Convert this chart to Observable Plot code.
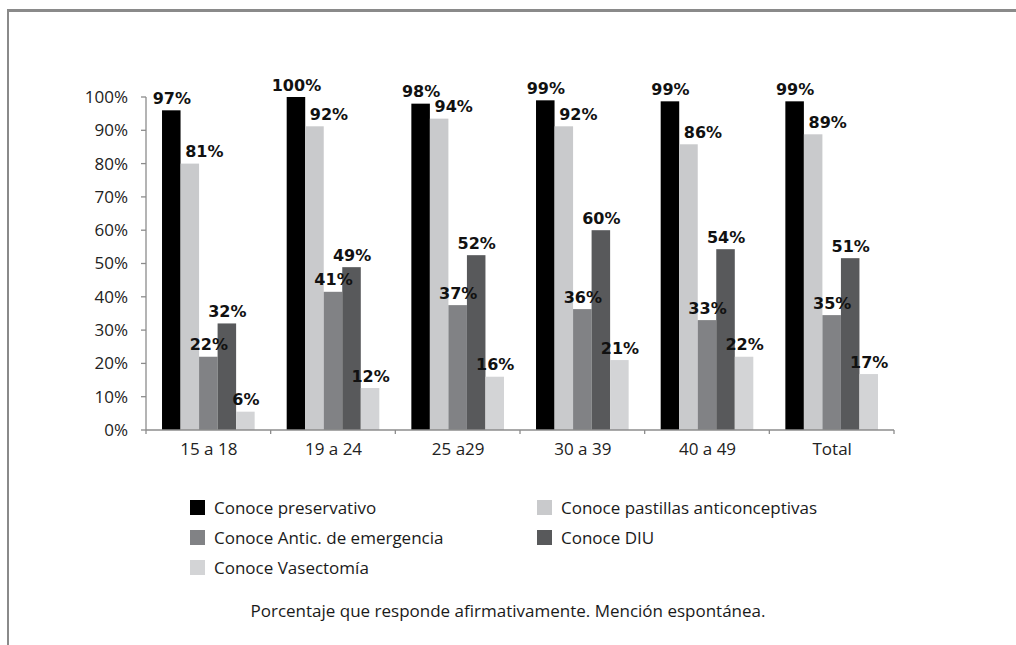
<!DOCTYPE html>
<html><head><meta charset="utf-8">
<script src="https://cdn.jsdelivr.net/npm/d3@7"></script>
<script src="https://cdn.jsdelivr.net/npm/@observablehq/plot@0.6"></script>
<style>
body{margin:0;background:#fff;}
#wrap{position:relative;width:1016px;height:645px;overflow:hidden;font-family:"Open Sans",sans-serif;color:#1a1a1a;}
#border{position:absolute;left:7px;top:9px;right:0;bottom:-5px;border-top:3px solid #8a8a8a;border-left:2px solid #8a8a8a;}
#chart{position:absolute;left:0;top:0;}
#legend{position:absolute;left:190px;top:492px;display:grid;grid-template-columns:347px 300px;}
.item{display:flex;align-items:center;height:30px;font-size:17px;white-space:nowrap;}
.sw{width:15px;height:15px;margin-right:9px;flex:none;}
#caption{position:absolute;left:0;top:601px;width:1016px;text-align:center;font-size:17px;line-height:20px;}
</style></head>
<body>
<div id="wrap">
  <div id="border"></div>
  <div id="chart"></div>
  <div id="legend"></div>
  <div id="caption">Porcentaje que responde afirmativamente. Mención espontánea.</div>
</div>
<script>
// Categories
const groups = ["15 a 18", "19 a 24", "25 a29", "30 a 39", "40 a 49", "Total"];
const series = ["Conoce preservativo", "Conoce pastillas anticonceptivas", "Conoce Antic. de emergencia", "Conoce DIU", "Conoce Vasectomía"];
const colors = ["#000000", "#c9cacc", "#818285", "#58595b", "#d3d4d6"];

// Bar heights as drawn (%)
const preservativo = [96, 100, 98, 99, 98.7, 98.7];
const pastillas    = [80, 91.2, 93.5, 91.2, 85.8, 88.8];
const emergencia   = [22, 41.5, 37.5, 36.3, 33, 34.5];
const diu          = [32, 48.9, 52.5, 60, 54.3, 51.6];
const vasectomia   = [5.5, 12.6, 16, 21, 22, 16.8];

// Printed value labels (%)
const lblPreservativo = [97, 100, 98, 99, 99, 99];
const lblPastillas    = [81, 92, 94, 92, 86, 89];
const lblEmergencia   = [22, 41, 37, 36, 33, 35];
const lblDiu          = [32, 49, 52, 60, 54, 51];
const lblVasectomia   = [6, 12, 16, 21, 22, 17];

// Y axis ticks
const yTicks = [0, 10, 20, 30, 40, 50, 60, 70, 80, 90, 100];

const valuesBySeries = [preservativo, pastillas, emergencia, diu, vasectomia];
const labelsBySeries = [lblPreservativo, lblPastillas, lblEmergencia, lblDiu, lblVasectomia];
const data = [];
groups.forEach((g, gi) => series.forEach((s, si) => data.push({
  group: g, series: s, si, value: valuesBySeries[si][gi], label: labelsBySeries[si][gi]
})));

const labelStyle = {fontFamily: "DejaVu Sans", fontWeight: "bold", fontSize: 16, fill: "#111", lineAnchor: "bottom", dy: -7};

const plot = Plot.plot({
  width: 1016, height: 470,
  marginLeft: 146, marginRight: 122, marginTop: 97, marginBottom: 40,
  style: {fontFamily: "Open Sans", fontSize: "17px", color: "#222", background: "transparent", overflow: "visible"},
  fx: {domain: groups, paddingInner: 0.257, paddingOuter: 0.1285, round: false, label: null, axis: "bottom", tickSize: 0, tickPadding: 12},
  x: {domain: series, padding: 0, round: false, axis: null},
  y: {domain: [0, 100], axis: null},
  color: {domain: series, range: colors},
  marks: [
    Plot.barY(data, {fx: "group", x: "series", y: "value", fill: "series"}),
    Plot.text(data.filter(d => d.si !== 1), {fx: "group", x: "series", y: "value", text: d => d.label + "%", ...labelStyle}),
    Plot.text(data.filter(d => d.si === 1), {fx: "group", x: "series", y: "value", text: d => d.label + "%", ...labelStyle, dx: 14})
  ]
});
document.getElementById("chart").appendChild(plot);

// Axes drawn with the plot's own scales
const fx = plot.scale("fx"), y = plot.scale("y");
const svg = d3.select(plot);
const gap = fx.step - fx.bandwidth;
const xL = fx.apply(groups[0]) - gap / 2;
const xR = fx.apply(groups[groups.length - 1]) + fx.bandwidth + gap / 2;
const y0 = y.apply(0), yTop = y.apply(100);
const ax = svg.append("g").attr("stroke", "#8c8c8c").attr("stroke-width", 1.3).attr("fill", "none");
ax.append("line").attr("x1", xL).attr("x2", xL).attr("y1", yTop).attr("y2", y0);
ax.append("line").attr("x1", xL).attr("x2", xR).attr("y1", y0).attr("y2", y0);
yTicks.forEach(v => ax.append("line").attr("x1", xL - 5).attr("x2", xL).attr("y1", y.apply(v)).attr("y2", y.apply(v)));
groups.map(g => fx.apply(g) - gap / 2).concat([xR]).forEach(xx =>
  ax.append("line").attr("x1", xx).attr("x2", xx).attr("y1", y0).attr("y2", y0 + 4));
const tl = svg.append("g").attr("font-family", "Open Sans").attr("font-size", 17).attr("fill", "#222").attr("text-anchor", "end");
yTicks.forEach(v => tl.append("text").attr("x", xL - 18).attr("y", y.apply(v)).attr("dy", "0.35em").text(v + "%"));

// Legend
const legend = document.getElementById("legend");
series.forEach((s, i) => {
  const it = document.createElement("div");
  it.className = "item";
  it.innerHTML = `<span class="sw" style="background:${colors[i]}"></span><span>${s}</span>`;
  legend.appendChild(it);
});
</script>
</body></html>
